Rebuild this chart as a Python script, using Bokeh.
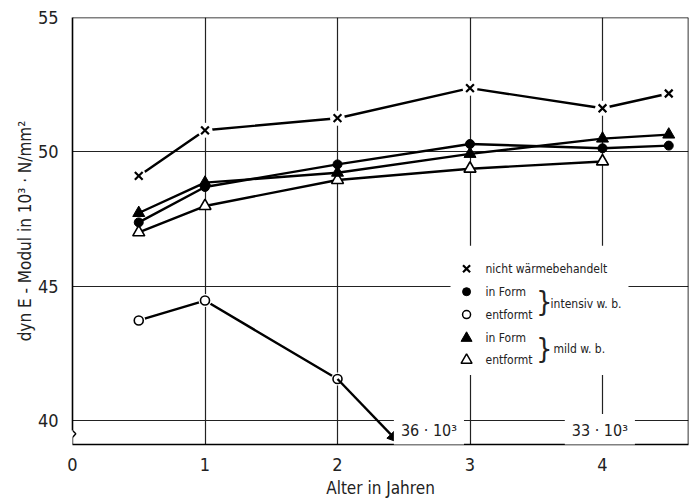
import math
from bokeh.plotting import figure
from bokeh.models import FixedTicker, Label, Arrow, NormalHead, Range1d, Span
from bokeh.core.properties import value
from bokeh.embed import file_html
from bokeh.resources import INLINE

FONT = "DejaVu Sans Condensed"

# ---------------- data ----------------
years = [0.5, 1, 2, 3, 4, 4.5]
nicht_wb = [49.1, 50.8, 51.25, 52.37, 51.62, 52.17]
intensiv_in_form = [47.37, 48.69, 49.53, 50.29, 50.13, 50.23]
intensiv_entformt_years = [0.5, 1, 2]
intensiv_entformt = [43.72, 44.46, 41.54]
arrow_to_year = 2.46          # off-scale continuation (36·10³)
arrow_to_value = 39.18
mild_in_form = [47.72, 48.85, 49.22, 49.92, 50.49, 50.64]
mild_entformt_years = [0.5, 1, 2, 3, 4]
mild_entformt = [47.0, 47.98, 48.95, 49.37, 49.64]
off_scale_labels = ["36 · 10³", "33 · 10³"]
off_scale_years = [2.69, 3.98]
x_ticks = [0, 1, 2, 3, 4]
y_ticks = [40, 45, 50, 55]
legend_labels = ["nicht wärmebehandelt", "in Form", "entformt", "in Form", "entformt"]
group_labels = ["intensiv  w. b.", "mild  w. b."]

X_END = 4.649
Y_START, Y_END = 39.1, 55.0

# ---------------- figure ----------------
p = figure(width=690, height=500, output_backend="svg", toolbar_location=None,
           x_range=Range1d(0, X_END), y_range=Range1d(Y_START, Y_END),
           min_border_left=72, min_border_right=2, min_border_top=17, min_border_bottom=53)
p.background_fill_color = "white"
p.border_fill_color = "white"
p.outline_line_color = None

for ax in (p.xaxis[0], p.yaxis[0]):
    ax.major_tick_line_color = None
    ax.minor_tick_line_color = None
    ax.axis_line_color = "black"
    ax.axis_line_width = 1.6
    ax.major_label_text_font = FONT
    ax.major_label_text_font_size = "18px"
    ax.major_label_text_color = "#222222"
    ax.axis_label_text_font = FONT
    ax.axis_label_text_font_style = "normal"
    ax.axis_label_text_color = "#222222"
p.xaxis.ticker = FixedTicker(ticks=x_ticks)
p.yaxis.ticker = FixedTicker(ticks=y_ticks)
p.yaxis.bounds = (39.62, Y_END)
p.xaxis.major_label_standoff = 7
p.yaxis.major_label_standoff = 8
p.xaxis.axis_label = "Alter in Jahren"
p.xaxis.axis_label_text_font_size = "17px"
p.xaxis.axis_label_standoff = 4
p.yaxis.axis_label = "dyn E - Modul in 10³ · N/mm²"
p.yaxis.axis_label_text_font_size = "17px"
p.yaxis.axis_label_standoff = 0

# top and right frame lines
p.add_layout(Span(location=Y_END, dimension="width", line_color="black", line_width=1.6))
p.add_layout(Span(location=X_END, dimension="height", line_color="black", line_width=1.6))

p.xgrid.ticker = FixedTicker(ticks=[1, 2, 3, 4])
p.ygrid.ticker = FixedTicker(ticks=[40, 45, 50])
p.xgrid.grid_line_color = "#222222"
p.ygrid.grid_line_color = "#222222"
p.xgrid.grid_line_width = 1.2
p.ygrid.grid_line_width = 1.2

# legend background box (covers grid)
p.quad(left=[2.853], right=[4.196], bottom=[41.69], top=[46.5],
       fill_color="white", line_color=None)

# ---------------- series lines ----------------
LW = 2.4
p.line(years, nicht_wb, line_width=LW, line_color="black")
p.line(years, intensiv_in_form, line_width=LW, line_color="black")
p.line(years, mild_in_form, line_width=LW, line_color="black")
p.line(mild_entformt_years, mild_entformt, line_width=LW, line_color="black")
p.line(intensiv_entformt_years, intensiv_entformt, line_width=LW, line_color="black")

arrow = Arrow(end=NormalHead(size=11, fill_color="black", line_color="black"),
              x_start=intensiv_entformt_years[-1], y_start=intensiv_entformt[-1],
              x_end=arrow_to_year, y_end=arrow_to_value,
              line_width=LW, line_color="black")
p.add_layout(arrow)

# white halos around isolated markers
p.scatter(years, nicht_wb, marker="circle", size=15, fill_color="white", line_color=None)
p.scatter(intensiv_entformt_years, intensiv_entformt, marker="circle", size=13,
          fill_color="white", line_color=None)

# ---------------- markers ----------------
p.scatter(years, nicht_wb, marker="x", size=11, line_width=2.2, line_color="black")
p.scatter(mild_entformt_years, mild_entformt, marker="triangle", size=12,
          fill_color="white", line_color="black", line_width=1.6)
p.scatter(years, mild_in_form, marker="triangle", size=12,
          fill_color="black", line_color="black")
p.scatter(years, intensiv_in_form, marker="circle", size=9,
          fill_color="black", line_color="black")
p.scatter(intensiv_entformt_years, intensiv_entformt, marker="circle", size=9,
          fill_color="white", line_color="black", line_width=1.6)

# ---------------- off-scale labels ----------------
for txt, xv in zip(off_scale_labels, off_scale_years):
    p.add_layout(Label(x=xv, y=39.62, text=txt, text_align="center", text_baseline="middle",
                       text_font=FONT, text_font_size="16px", text_color="#222222",
                       background_fill_color="white", padding=7))

# ---------------- axis break squiggle ----------------
p.line([0.0, 0.025, 0.0, 0.0], [39.62, 39.5, 39.36, 39.1],
       line_color="black", line_width=1.4)

# ---------------- legend ----------------
leg_x = 2.974
leg_y = [45.645, 44.79, 43.94, 43.06, 42.24]
p.scatter([leg_x], [leg_y[0]], marker="x", size=10, line_width=2.2, line_color="black")
p.scatter([leg_x], [leg_y[1]], marker="circle", size=8, fill_color="black", line_color="black")
p.scatter([leg_x], [leg_y[2]], marker="circle", size=8, fill_color="white",
          line_color="black", line_width=1.5)
p.scatter([leg_x], [leg_y[3]], marker="triangle", size=11, fill_color="black", line_color="black")
p.scatter([leg_x], [leg_y[4]], marker="triangle", size=11, fill_color="white",
          line_color="black", line_width=1.5)
p.text(x=[3.117] * 5, y=leg_y, text=legend_labels, text_baseline="middle",
       text_font=value(FONT), text_font_size="12px", text_color="#222222")
p.text(x=[3.5, 3.5], y=[44.37, 42.65], text=["}", "}"], text_baseline="middle",
       text_font=value(FONT), text_font_size="28px", text_color="#222222")
p.text(x=[3.608, 3.63], y=[44.35, 42.65], text=group_labels, text_baseline="middle",
       text_font=value(FONT), text_font_size="12px", text_color="#222222")

open("out.html", "w").write(file_html(p, INLINE))
